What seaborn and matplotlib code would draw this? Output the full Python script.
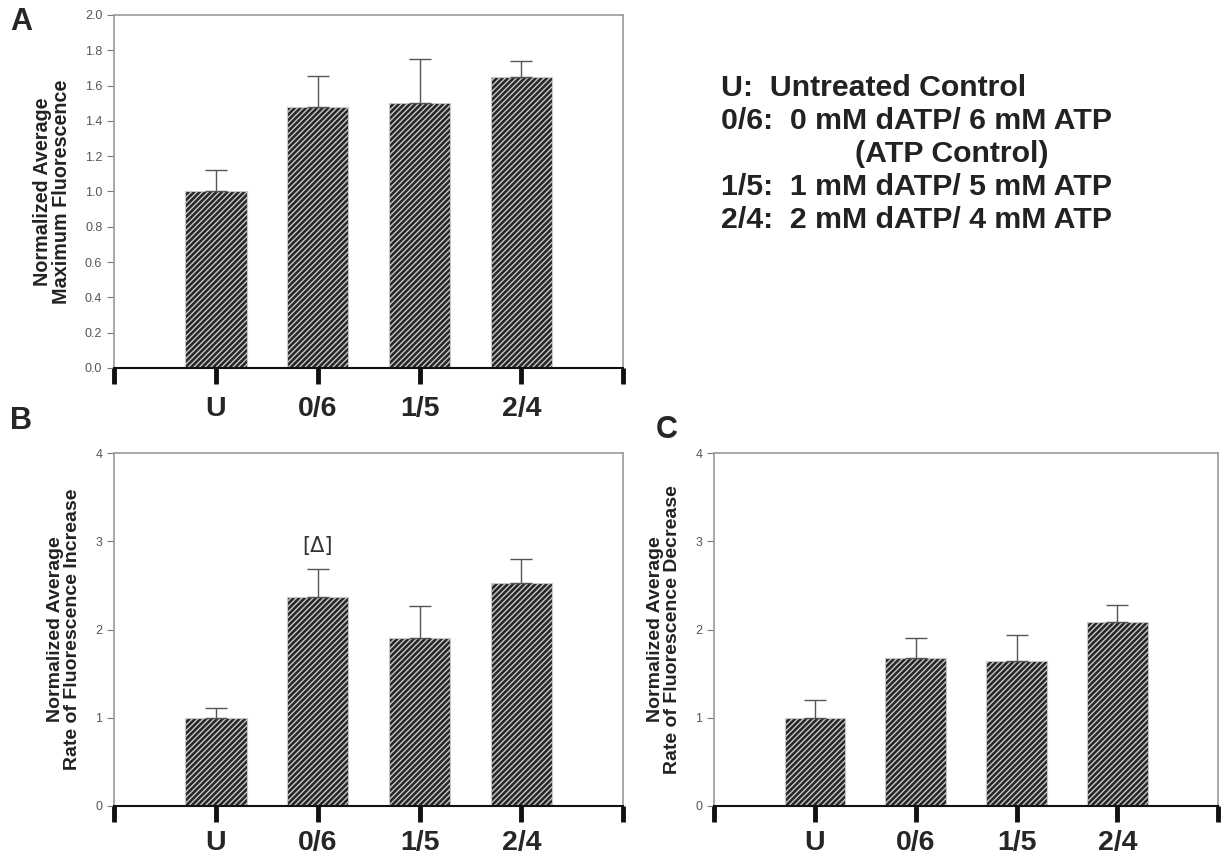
import numpy as np
import pandas as pd
import seaborn as sns
import matplotlib.pyplot as plt
from matplotlib.ticker import FormatStrFormatter

# data
groups = ['U', '0/6', '1/5', '2/4']
max_fluor = [1.00, 1.48, 1.50, 1.65]
max_fluor_err = [0.12, 0.175, 0.25, 0.09]
rate_inc = [1.00, 2.37, 1.91, 2.53]
rate_inc_err = [0.11, 0.32, 0.36, 0.27]
rate_dec = [1.00, 1.68, 1.64, 2.09]
rate_dec_err = [0.20, 0.23, 0.30, 0.19]

legend_lines = ['U:  Untreated Control',
                '0/6:  0 mM dATP/ 6 mM ATP',
                '(ATP Control)',
                '1/5:  1 mM dATP/ 5 mM ATP',
                '2/4:  2 mM dATP/ 4 mM ATP']

sns.set_style('white')
plt.rcParams['font.family'] = ['Liberation Sans', 'DejaVu Sans']
plt.rcParams['hatch.linewidth'] = 1.0

fig = plt.figure(figsize=(12.21, 8.6), dpi=100)
axA = fig.add_axes([0.0935, 0.5721, 0.4170, 0.4105])
axB = fig.add_axes([0.0935, 0.0628, 0.4170, 0.4102])
axC = fig.add_axes([0.5848, 0.0628, 0.4130, 0.4102])


def panel(ax, vals, errs, ylim, yticks, fmt, ylabel, lsize, xpad):
    df = pd.DataFrame({'group': groups, 'value': vals})
    sns.barplot(data=df, x='group', y='value', ax=ax, width=0.6,
                color='#2b2b2b', edgecolor='#c8c8c8', linewidth=0.8,
                saturation=1)
    for p in ax.patches:
        p.set_hatch('//////')
        p.set_facecolor('#262626')
    ax.errorbar(range(len(groups)), vals, yerr=[np.zeros(len(errs)), errs],
                fmt='none', ecolor='#555555', elinewidth=1.0, capsize=8,
                capthick=1.0, zorder=1)
    ax.set_xlim(-1, 4)
    ax.set_ylim(*ylim)
    ax.set_xticks(range(-1, 5))
    ax.set_xticklabels([''] + groups + [''], fontsize=20.5, fontweight='bold')
    ax.set_yticks(yticks)
    ax.yaxis.set_major_formatter(FormatStrFormatter(fmt))
    ax.tick_params(axis='x', direction='out', length=11.5, width=3.5,
                   color='#111111', pad=xpad, bottom=True)
    ax.tick_params(axis='y', direction='out', length=5, width=0.8,
                   color='#777777', labelsize=9, labelcolor='#555555', left=True)
    for s in ['top', 'right', 'left']:
        ax.spines[s].set_color('#9a9a9a')
        ax.spines[s].set_linewidth(1.2)
    ax.spines['bottom'].set_color('#111111')
    ax.spines['bottom'].set_linewidth(1.5)
    ax.set_xlabel('')
    ax.set_ylabel(ylabel, fontsize=lsize, fontweight='bold', color='#222222',
                  labelpad=10, linespacing=1.0)


panel(axA, max_fluor, max_fluor_err, (0, 2.0), np.arange(0, 2.01, 0.2), '%.1f',
      'Normalized Average\nMaximum Fluorescence', 14.2, 9)
panel(axB, rate_inc, rate_inc_err, (0, 4), range(0, 5), '%d',
      'Normalized Average\nRate of Fluorescence Increase', 14, 6)
panel(axC, rate_dec, rate_dec_err, (0, 4), range(0, 5), '%d',
      'Normalized Average\nRate of Fluorescence Decrease', 14, 6)

axB.text(1, 2.95, '[Δ]', ha='center', va='center', fontsize=15, color='#333333',
         family=['DejaVu Sans'])

fig.text(0.008, 0.975, 'A', fontsize=22, fontweight='bold', va='center')
fig.text(0.008, 0.511, 'B', fontsize=22, fontweight='bold', va='center')
fig.text(0.537, 0.500, 'C', fontsize=22, fontweight='bold', va='center')

for i, line in enumerate(legend_lines):
    x = 0.700 if line.startswith('(') else 0.5905
    fig.text(x, 0.898 - i * 0.0385, line, fontsize=21.8, fontweight='bold',
             color='#222222', va='center')

fig.savefig('out.png', dpi=100)
